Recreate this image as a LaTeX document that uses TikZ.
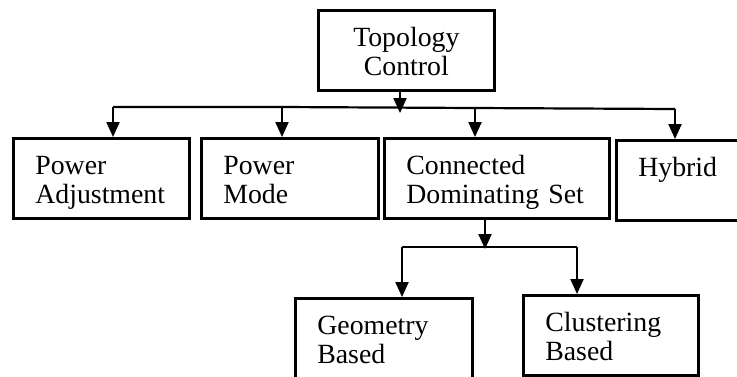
\documentclass[tikz,border=0pt]{standalone}
\usepackage{fontspec}
\setmainfont{Liberation Serif}
\usetikzlibrary{arrows.meta}

\begin{document}
\begin{tikzpicture}[x=0.5pt, y=-0.5pt, line width=1.1pt, box/.style = {draw, line width=1.35pt, anchor=north west, inner xsep=11pt, inner ysep=3pt, text height=15pt, text depth=19pt, align=left, font=\fontsize{13.9}{14.75}\selectfont}, arr/.style = {-{Triangle[width=6.5pt,length=7.5pt]}}]
		\useasboundingbox (0,0) rectangle (737,376);
		\clip (0,0) rectangle (737,376);
		\node[box, align=center, text width=66pt] (tc) at (317,9) {Topology\\Control};
		\node[box, text width=66pt] (pa) at (12,137) {Power\\Adjustment};
		\node[box, text width=66.5pt] (pm) at (200,137) {Power\\Mode};
		\node[box, text width=90.5pt] (cds) at (383,137) {Connected\\Dominating Set};
		\node[box, text width=41.5pt] (hyb) at (615,139) {Hybrid};
		\node[box, text width=66.5pt] (geo) at (294,297) {Geometry\\Based};
		\node[box, text width=65.5pt] (clu) at (522,294) {Clustering\\Based};
		\coordinate (j1) at (400,113);
		\coordinate (b1) at (113,107);
		\coordinate (b2) at (282,107);
		\coordinate (b3) at (475,108);
		\coordinate (b4) at (675,109);
		\coordinate (j2) at (485,249);
		\coordinate (c1) at (402,247);
		\coordinate (c2) at (577,247);
		\draw[arr] (j1 |- tc.south) -- (j1);
		\draw (b1) -- (b2) -- (b3) -- (b4);
		\foreach \b/\n in {b1/pa, b2/pm, b3/cds, b4/hyb}
			\draw[arr] (\b) -- (\b |- \n.north);
		\draw[arr] (j2 |- cds.south) -- (j2);
		\draw (c1) -- (c2);
		\draw[arr] (c1) -- (c1 |- geo.north);
		\draw[arr] (c2) -- (c2 |- clu.north);
	\end{tikzpicture}
\end{document}
